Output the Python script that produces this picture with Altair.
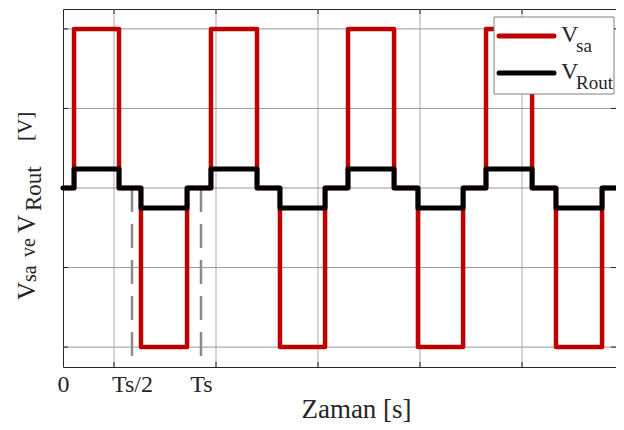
import altair as alt
import pandas as pd

# ---------------- data (time in units of Ts) ----------------
edges = [0.0, 0.080, 0.406, 0.565, 0.899, 1.072, 1.406, 1.572, 1.899,
         2.065, 2.399, 2.572, 2.899, 3.065, 3.399, 3.572, 3.906, 4.007]
vsa_levels = [0, 2, 0, -2, 0, 2, 0, -2, 0, 2, 0, -2, 0, 2, 0, -2, 0]
vrout_levels = [0, 0.24, 0, -0.25, 0, 0.24, 0, -0.25, 0, 0.24, 0, -0.25,
                0, 0.24, 0, -0.25, 0]
series_names = ["V_sa", "V_Rout"]
series_colors = ["#c00000", "#000000"]

x_tick_values = [0, 0.5, 1.0]
x_tick_labels = ["0", "Ts/2", "Ts"]
grid_x = [0.3696, 1.1087, 1.8478, 2.587, 3.326]
grid_y = [-2, -1, 0, 1, 2]
dashed_x = [0.5, 1.0]

X_MAX = 4.007
Y_MIN, Y_MAX = -2.25, 2.25
W, H = 553, 358
FONT = "Liberation Serif"
TXT = "#262626"

# ---------------- tables ----------------
rows = []
for name, levels in zip(series_names, (vsa_levels, vrout_levels)):
    for i, lv in enumerate(levels):
        rows.append({"series": name, "t": edges[i], "v": lv, "i": i})
    rows.append({"series": name, "t": edges[-1], "v": levels[-1], "i": len(levels)})
lines_df = pd.DataFrame(rows)

gx_df = pd.DataFrame({"gx": grid_x})
gy_df = pd.DataFrame({"gy": grid_y})
dash_df = pd.DataFrame({"dx": dashed_x, "y0": [0] * len(dashed_x), "y1": [Y_MIN] * len(dashed_x)})
one = pd.DataFrame({"k": [0]})

label_expr = "''"
for v, lab in reversed(list(zip(x_tick_values, x_tick_labels))):
    label_expr = f"datum.value == {v} ? '{lab}' : ({label_expr})"

xs = alt.Scale(domain=[0, X_MAX], nice=False, zero=False)
ys = alt.Scale(domain=[Y_MIN, Y_MAX], nice=False, zero=False)
x_axis = alt.Axis(values=x_tick_values, labelExpr=label_expr, domain=False, ticks=False,
                  grid=False, labelFont=FONT, labelFontSize=24, labelColor=TXT,
                  labelPadding=5, labelFlush=False, labelAngle=0,
                  title="Zaman [s]", titleFont=FONT, titleFontSize=27,
                  titleFontWeight="normal", titleColor=TXT, titleY=50,
                  titleX=293, titleAlign="center", titleBaseline="alphabetic")

def X(field):
    return alt.X(f"{field}:Q", scale=xs, axis=x_axis)

def Y(field):
    return alt.Y(f"{field}:Q", scale=ys, axis=None)

grid_v = alt.Chart(gx_df).mark_rule(color="#a8a8a8", strokeWidth=1).encode(x=X("gx"))
grid_h = alt.Chart(gy_df).mark_rule(color="#999999", strokeWidth=1).encode(y=Y("gy"))

tick_b = alt.Chart(gx_df).mark_rule(color=TXT, strokeWidth=1).encode(
    x=X("gx"), y=alt.value(H), y2=alt.value(H - 5))
tick_t = alt.Chart(gx_df).mark_rule(color=TXT, strokeWidth=1).encode(
    x=X("gx"), y=alt.value(0), y2=alt.value(5))
tick_l = alt.Chart(gy_df).mark_rule(color=TXT, strokeWidth=1).encode(
    y=Y("gy"), x=alt.value(0), x2=alt.value(5))
tick_r = alt.Chart(gy_df).mark_rule(color=TXT, strokeWidth=1).encode(
    y=Y("gy"), x=alt.value(W - 5), x2=alt.value(W))

dashed = alt.Chart(dash_df).mark_rule(color="#8c8c8c", strokeWidth=2.5,
                                      strokeDash=[24, 12]).encode(
    x=X("dx"), y=Y("y0"), y2="y1:Q")

line_layers = []
for name, col, sw in zip(series_names, series_colors, [4.5, 5]):
    line_layers.append(
        alt.Chart(lines_df[lines_df.series == name]).mark_line(
            interpolate="step-after", color=col, strokeWidth=sw,
            strokeJoin="round", strokeCap="round").encode(
            x=X("t"), y=Y("v"), order="i:Q"))

# ---------------- legend (drawn inside the plot) ----------------
leg_box = alt.Chart(one).mark_rect(fill="white", stroke="#808080", strokeWidth=1).encode(
    x=alt.value(431), x2=alt.value(551), y=alt.value(8), y2=alt.value(85))
leg_layers = [leg_box]
leg_main = ["V", "V"]
leg_sub = ["sa", "Rout"]
for k, (col, m, s) in enumerate(zip(series_colors, leg_main, leg_sub)):
    yl = 27 + 37 * k
    leg_layers.append(alt.Chart(one).mark_rule(color=col, strokeWidth=5, strokeCap="round").encode(
        x=alt.value(436), x2=alt.value(491), y=alt.value(yl)))
    leg_layers.append(alt.Chart(one).mark_text(font=FONT, fontSize=24, color=TXT, align="left",
                                               baseline="alphabetic").encode(
        x=alt.value(498), y=alt.value(yl + 6), text=alt.value(m)))
    leg_layers.append(alt.Chart(one).mark_text(font=FONT, fontSize=19, color=TXT, align="left",
                                               baseline="alphabetic").encode(
        x=alt.value(513), y=alt.value(yl + 16), text=alt.value(s)))

# ---------------- y title with subscripts ----------------
ytitle_parts = [("V", 25, -28, 291), ("sa", 20, -27, 273), ("ve", 20, -28, 248),
                ("V", 25, -28, 224), ("Rout", 23, -22, 202), ("[V]", 21, -31, 132)]
ytitle_layers = []
for txt, fs, xx, yy in ytitle_parts:
    ytitle_layers.append(alt.Chart(one).mark_text(font=FONT, fontSize=fs, color=TXT, angle=270,
                                                  align="left", baseline="alphabetic").encode(
        x=alt.value(xx), y=alt.value(yy), text=alt.value(txt)))

chart = alt.layer(
    grid_v, grid_h, tick_b, tick_t, tick_l, tick_r, dashed,
    *line_layers, *leg_layers, *ytitle_layers
).properties(
    width=W, height=H,
    padding={"left": 55, "top": 1, "right": 0, "bottom": 55},
    autosize=alt.AutoSizeParams(type="none"),
).configure_view(stroke=TXT, strokeWidth=1)

chart.save("out.html", embed_options={"renderer": "svg", "actions": False})
